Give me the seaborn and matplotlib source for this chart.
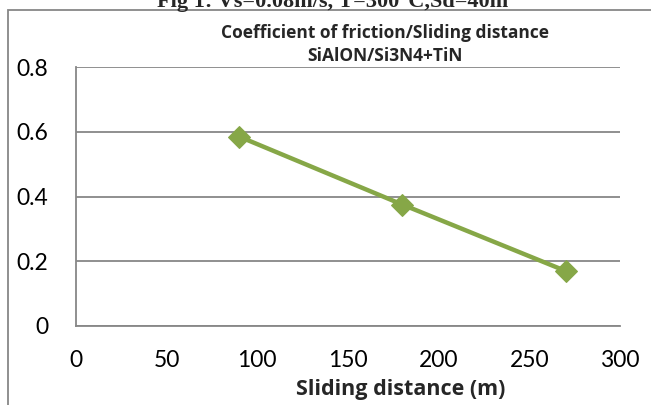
import matplotlib
matplotlib.use("Agg")
import matplotlib.pyplot as plt
import seaborn as sns
import pandas as pd
from matplotlib.patches import Rectangle

# Data
sliding_distance = [90, 180, 270]
friction_coef = [0.585, 0.375, 0.17]
x_ticks = [0, 50, 100, 150, 200, 250, 300]
y_ticks = [0, 0.2, 0.4, 0.6, 0.8]
y_tick_labels = ["0", "0.2", "0.4", "0.6", "0.8"]

title_line1 = "Coefficient of friction/Sliding distance"
title_line2 = "SiAlON/Si3N4+TiN"
x_label = "Sliding distance (m)"
header = "Fig 1: Vs=0.08m/s, T=300°C,Sd=40m"

sns.set_theme(style="white")
plt.rcParams['font.family'] = ['Lato', 'DejaVu Sans']

df = pd.DataFrame({"x": sliding_distance, "y": friction_coef})

W, H = 651, 405
fig = plt.figure(figsize=(W / 100, H / 100), dpi=100)
ax = fig.add_axes([76 / W, 1 - 326 / H, (620 - 76) / W, (326 - 67) / H])

sns.lineplot(data=df, x="x", y="y", ax=ax, color="#86A747", linewidth=3.2,
             marker="D", markersize=11, markeredgecolor="#86A747",
             markerfacecolor="#86A747")

ax.set_xlim(0, 300)
ax.set_ylim(0, 0.8)
ax.set_xticks(x_ticks)
ax.set_xticklabels([str(t) for t in x_ticks])
ax.set_yticks(y_ticks)
ax.set_yticklabels(y_tick_labels)
ax.tick_params(axis="both", length=0, labelsize=16.5, colors="black")
ax.tick_params(axis="y", pad=20)
ax.tick_params(axis="x", pad=17)
ax.grid(axis="y", color="#878787", linewidth=1.3)
ax.grid(axis="x", visible=False)
for s in ["top", "right"]:
    ax.spines[s].set_visible(False)
for s in ["left", "bottom"]:
    ax.spines[s].set_color("#878787")
    ax.spines[s].set_linewidth(1.3)
ax.set_xlabel("")
ax.set_ylabel("")

bold_fam = ["Open Sans", "DejaVu Sans"]

# x label
fig.text(401 / W, 1 - 389 / H, x_label, ha="center", va="center",
         fontsize=15.5, fontweight="bold", family=bold_fam)

# chart title
fig.text(385 / W, 1 - 33 / H, title_line1,
         ha="center", va="center", fontsize=12.5, fontweight="bold", family=bold_fam)
fig.text(385 / W, 1 - 56 / H, title_line2,
         ha="center", va="center", fontsize=12.5, fontweight="bold", family=bold_fam)

# header partly above the chart frame
fig.text(333 / W, 1 - 7 / H, header, ha="center", va="baseline",
         fontsize=16, fontweight="bold", family=["Liberation Serif", "DejaVu Serif"])

# chart frame (left and top edges visible)
fig.patches.append(Rectangle((8 / W, -0.1), 1.2, (1 - 10 / H) + 0.1,
                             transform=fig.transFigure, fill=False,
                             edgecolor="#878787", linewidth=1.3, zorder=0))
fig.savefig("out.png", dpi=100)
